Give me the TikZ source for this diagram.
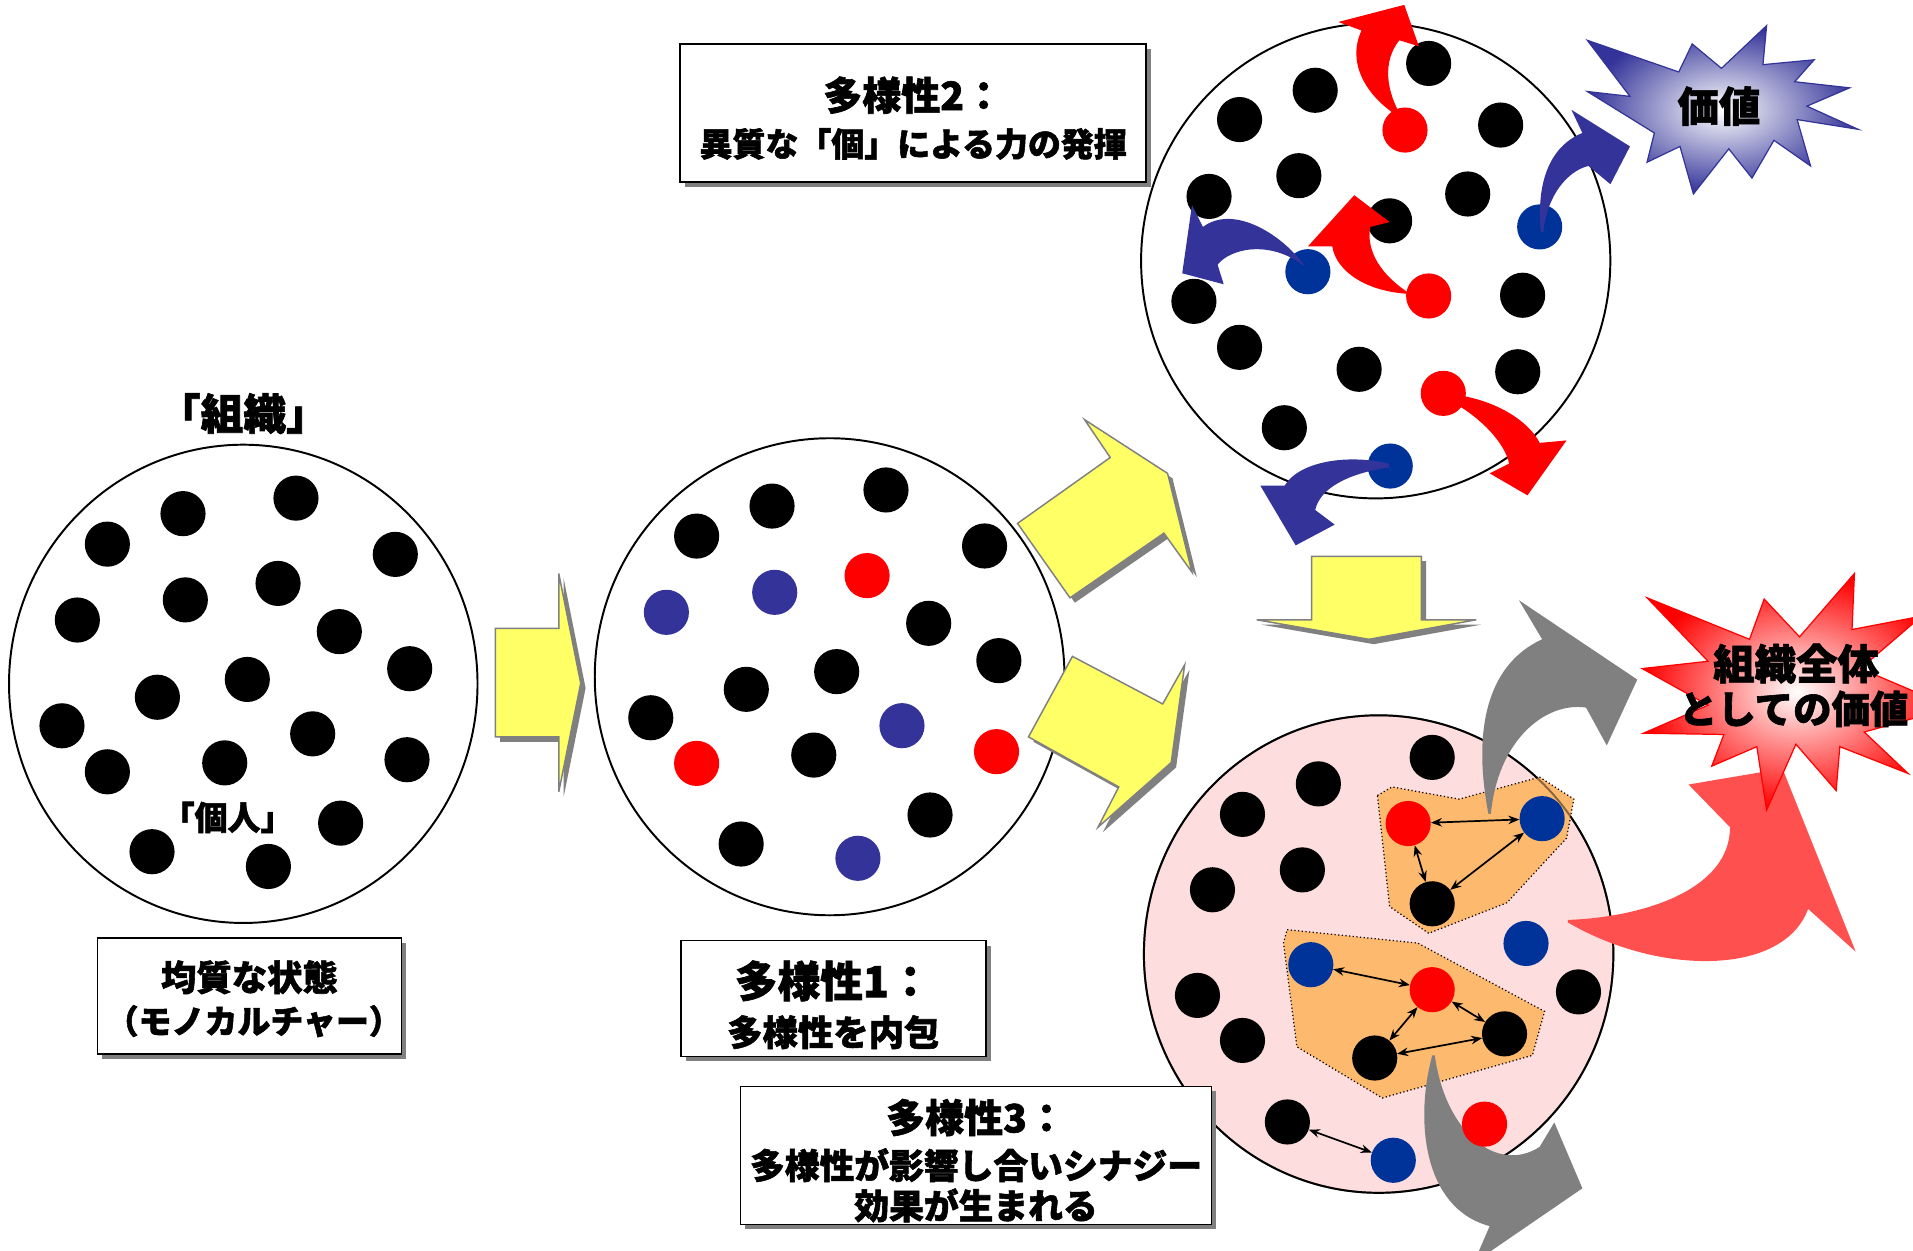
\documentclass[tikz,border=0pt]{standalone}
\usepackage{fontspec}
\setmainfont{Noto Sans CJK JP}[BoldFeatures={FakeBold=1.6}]
\usetikzlibrary{shadows,arrows.meta}
\definecolor{rd}{RGB}{255,0,0}
\definecolor{blA}{RGB}{51,51,153}
\definecolor{blB}{RGB}{0,51,153}
\definecolor{pinkbg}{RGB}{253,221,221}
\definecolor{orng}{RGB}{253,185,110}
\definecolor{yel}{RGB}{255,255,102}
\definecolor{gry}{RGB}{128,128,128}
\definecolor{rdarrow}{RGB}{255,80,80}
\begin{document}
\begin{tikzpicture}[x=1pt,y=-1pt,
  dotbase/.style={circle,minimum size=37pt,inner sep=0pt,draw=none},
  bdot/.style={dotbase,fill=black},
  rdot/.style={dotbase,fill=rd},
  adot/.style={dotbase,fill=blA},
  ndot/.style={dotbase,fill=blB},
  bigcirc/.style={draw=black,line width=1.6pt},
  box/.style={draw=black,line width=1.3pt,fill=white,inner sep=0pt,
     general shadow={fill=gry,shadow xshift=4pt,shadow yshift=-4pt}},
  txt/.style={inner sep=0pt,font=\bfseries},
  yarrow/.style={fill=yel,draw=gry,line width=1.2pt},
  yshadow/.style={fill=gry},
  dbl/.style={{Stealth[length=9pt,width=7pt]}-{Stealth[length=9pt,width=7pt]},line width=1.4pt},
  region/.style={fill=orng,draw=black,dotted,line width=1pt}
]
\useasboundingbox (0,0) rectangle (1568,1025);
\clip (0,0) rectangle (1568,1025);

% ---------- left circle ----------
\draw[bigcirc,fill=white] (199.4,560.5) ellipse [x radius=192pt,y radius=196pt];
\foreach \x/\y [count=\i] in {88/446,150/421,242.6/408.3,324/454.4,63.4/508.2,151.9/491.7,227.9/478.2,278.1/517.7,335.8/548.1,129/571.5,202.7/556.9,50.8/594.9,88/632.6,184.2/625.3,256.3/601.5,333.6/622.7,279.2/674.7,124.6/698.1,220/710.2}
  \node[bdot] (a\i) at (\x,\y) {};
\node[txt,font={\fontsize{35}{38}\selectfont\bfseries}] (lsoshiki) at (199.5,339) {「組織」};
\node[txt,font={\fontsize{27}{30}\selectfont\bfseries}] (lkojin) at (186.5,670) {「個人」};

% ---------- arrow 1 ----------
\fill[yshadow] (410,519) -- (462,519) -- (462,474) -- (480,564) -- (462,653) -- (462,608) -- (410,608) -- cycle;
\draw[yarrow] (406,515) -- (458,515) -- (458,470) -- (476,560) -- (458,649) -- (458,604) -- (406,604) -- cycle;

% ---------- middle circle ----------
\draw[bigcirc,fill=white] (680,554.7) ellipse [x radius=192.5pt,y radius=195.5pt];
\foreach \x/\y [count=\i] in {571/439.4,632.8/414.8,726.2/401.6,807/447.5,761.2/510.9,818.7/541.5,685.8/550.5,611.7/565,533.4/588.3,667/618.9,762.3/668,607.5/691.8}
  \node[bdot] (m\i) at (\x,\y) {};
\foreach \x/\y [count=\i] in {546.2/501.9,635/485.5,739.3/594.8,703.2/703.5}
  \node[adot] (mb\i) at (\x,\y) {};
\foreach \x/\y [count=\i] in {710.7/471.8,571/625.7,816.8/616.1}
  \node[rdot] (mr\i) at (\x,\y) {};

% ---------- diagonal yellow arrows ----------
\fill[yshadow] (838,433) -- (914,379) -- (893,348) -- (961,392) -- (981,473) -- (958,441) -- (881,494) -- cycle;
\draw[yarrow] (834,429) -- (910,375) -- (889,344) -- (957,388) -- (977,469) -- (954,437) -- (877,490) -- cycle;
\fill[yshadow] (883,542) -- (957,581) -- (975,549) -- (964,629) -- (904,682) -- (921,649) -- (847,608) -- cycle;
\draw[yarrow] (879,538) -- (953,577) -- (971,545) -- (960,625) -- (900,678) -- (917,645) -- (843,604) -- cycle;

% ---------- top-right circle ----------
\draw[bigcirc,fill=white] (1127.6,213.8) ellipse [x radius=192.3pt,y radius=194.7pt];
\foreach \x/\y [count=\i] in {1171/52,1078/74,1016/98,1230/102.5,1064.6/144,991/161,1203/159,1139/181,1248/242,978.6/247,1016/284.7,1114/302.7,1244/304.7,1052.7/350.6}
  \node[bdot] (t\i) at (\x,\y) {};
\foreach \x/\y [count=\i] in {1151.6/106.6,1171/242.6,1183/322.4}
  \node[rdot] (tr\i) at (\x,\y) {};
\foreach \x/\y [count=\i] in {1262/186,1072/222.7,1139.5/382}
  \node[ndot] (tb\i) at (\x,\y) {};

% star (value)
\shade[inner color=white,outer color=blA,draw=blA,line width=1pt]
  (1301,33) -- (1376,59) -- (1387,36) -- (1411,56) -- (1448,21) -- (1445,53) -- (1487,49) -- (1471,67) -- (1516,72) -- (1481,87) -- (1523,106) -- (1473,98) -- (1484,136) -- (1454,115) -- (1436,146) -- (1417,122) -- (1388,159) -- (1377,120) -- (1350,133) -- (1356,109) -- (1301,75) -- (1336,79) -- cycle;
\node[txt,font={\fontsize{34}{36}\selectfont\bfseries}] (kachi) at (1409,87) {価値};

% curved arrows (top-right circle)
\fill[rd] (1147,96) .. controls (1118,78) and (1104,50) .. (1116,25) -- (1097,18) -- (1151,4) -- (1163,38) -- (1147,33) .. controls (1133,50) and (1136,75) .. (1149,96) -- cycle;
\fill[blA] (1263,190) .. controls (1259,150) and (1270,120) .. (1297,109) -- (1288,90) -- (1336,120) -- (1320,151) -- (1302,136) .. controls (1285,140) and (1268,160) .. (1265,190) -- cycle;
\fill[blA] (1068,216) .. controls (1048,190) and (1010,168) .. (986,186) -- (977,168) -- (969,224) -- (1003,233) -- (998,217) .. controls (1008,204) and (1040,196) .. (1069,218) -- cycle;
\fill[rd] (1158,241) .. controls (1120,240) and (1095,222) .. (1092,202) -- (1072,202) -- (1110,160) -- (1139,182) -- (1123,186) .. controls (1120,205) and (1130,225) .. (1159,243) -- cycle;
\fill[rd] (1184,323) .. controls (1215,324) and (1250,340) .. (1262,363) -- (1284,361) -- (1252,406) -- (1221,388) -- (1237,380) .. controls (1233,362) and (1212,340) .. (1184,326) -- cycle;
\fill[blA] (1138,380) .. controls (1105,372) and (1065,378) .. (1053,398) -- (1033,398) -- (1062,447) -- (1094,430) -- (1078,418) .. controls (1082,400) and (1105,388) .. (1139,383) -- cycle;

% ---------- down arrow ----------
\fill[yshadow] (1079,460) -- (1169,460) -- (1169,512) -- (1214,512) -- (1126,528) -- (1034,512) -- (1079,512) -- cycle;
\draw[yarrow] (1075,456) -- (1165,456) -- (1165,508) -- (1210,508) -- (1122,524) -- (1030,508) -- (1075,508) -- cycle;

% ---------- bottom-right circle ----------
\draw[bigcirc,fill=pinkbg] (1130,782) ellipse [x radius=192.4pt,y radius=195.7pt];
\fill[orng] (1129,652) -- (1141,645) -- (1196,655) -- (1262,637) -- (1290,655) -- (1284,687) -- (1235,740) -- (1171,765) -- (1139,743) -- cycle;
\fill[orng] (1055,762) -- (1162,773) -- (1266,829) -- (1256,865) -- (1133,900) -- (1063,858) -- (1052,773) -- cycle;
\draw[black,line width=1.6pt,draw opacity=0.45] (1130,782) ellipse [x radius=192.4pt,y radius=195.7pt];
\draw[black,dotted,line width=1pt] (1129,652) -- (1141,645) -- (1196,655) -- (1262,637) -- (1290,655) -- (1284,687) -- (1235,740) -- (1171,765) -- (1139,743) -- cycle;
\draw[black,dotted,line width=1pt] (1055,762) -- (1162,773) -- (1266,829) -- (1256,865) -- (1133,900) -- (1063,858) -- (1052,773) -- cycle;

% gray arrows
\fill[gry] (1220,667) .. controls (1207,600) and (1218,545) .. (1264,524) -- (1245,492) -- (1342,557) -- (1317,611) -- (1300,580) .. controls (1268,575) and (1228,605) .. (1222,667) -- cycle;
\fill[gry] (1174,865) .. controls (1160,915) and (1165,990) .. (1221,1005) -- (1208,1035) -- (1297,974) -- (1274,920) -- (1262,940) .. controls (1228,962) and (1185,930) .. (1176,865) -- cycle;

% dots
\foreach \x/\y [count=\i] in {1173.9/620.8,1080.6/642.5,1018.4/667.5,1067.5/713,993.8/729.3,1173.9/740.8,981.5/815.9,1018.4/852.8,1293.8/813,1126.8/867.2,1233.2/847.4,1055.2/919.6}
  \node[bdot] (q\i) at (\x,\y) {};
\foreach \x/\y [count=\i] in {1154.2/675,1173.9/811.2,1216.8/921.4}
  \node[rdot] (qr\i) at (\x,\y) {};
\foreach \x/\y [count=\i] in {1264/671,1250.8/773.3,1074.4/790.7,1142/951}
  \node[ndot] (qb\i) at (\x,\y) {};

\draw[dbl] (qr1) -- (qb1);
\draw[dbl] (qr1) -- (q6);
\draw[dbl] (qb1) -- (q6);
\draw[dbl] (qb3) -- (qr2);
\draw[dbl] (qr2) -- (q10);
\draw[dbl] (qr2) -- (q11);
\draw[dbl] (q10) -- (q11);
\draw[dbl] (q12) -- (qb4);

% big red arrow
\fill[rdarrow] (1285,754) .. controls (1345,752) and (1418,730) .. (1418,678) -- (1384,643) -- (1461,630) -- (1521,780) -- (1482,745) .. controls (1462,800) and (1360,800) .. (1285,756) -- cycle;

% red star
\shade[inner color=white,outer color=rd,draw=rd,line width=1pt]
  (1350,490) -- (1434,524) -- (1446,491) -- (1475,522) -- (1520,470) -- (1518,516) -- (1575,505) -- (1525,548) -- (1600,580) -- (1528,600) -- (1564,634) -- (1508,612) -- (1505,648) -- (1472,610) -- (1448,664) -- (1440,612) -- (1403,628) -- (1413,602) -- (1347,601) -- (1400,578) -- (1346,548) -- (1400,542) -- cycle;
\node[txt,font={\fontsize{34}{36}\selectfont\bfseries},anchor=west] (zentai1) at (1404,544) {組織全体};
\node[txt,font={\fontsize{31.5}{36}\selectfont\bfseries},anchor=west] (zentai2) at (1376,581) {としての価値};

% ---------- boxes ----------
\node[box,minimum width=249pt,minimum height=95pt] (box0) at (204.5,816.5) {};
\node[txt,font={\fontsize{29}{30}\selectfont\bfseries}] (b0a) at (204.5,801) {均質な状態};
\node[txt,font={\fontsize{27}{30}\selectfont\bfseries}] (b0b) at (208,837) {（モノカルチャー）};

\node[box,minimum width=250pt,minimum height=95pt] (box1) at (683,818.5) {};
\node[txt,font={\fontsize{35}{36}\selectfont\bfseries}] (b1a) at (683,804) {多様性1：};
\node[txt,font={\fontsize{29}{30}\selectfont\bfseries}] (b1b) at (683,846) {多様性を内包};

\node[box,minimum width=382pt,minimum height=113pt] (box2) at (748.5,92.5) {};
\node[txt,font={\fontsize{32}{34}\selectfont\bfseries}] (b2a) at (748.5,78) {多様性2：};
\node[txt,font={\fontsize{27}{30}\selectfont\bfseries}] (b2b) at (748.5,118) {異質な「個」による力の発揮};

\node[box,minimum width=386pt,minimum height=113pt] (box3) at (800,947) {};
\node[txt,font={\fontsize{32}{34}\selectfont\bfseries}] (b3a) at (800,916) {多様性3：};
\node[txt,font={\fontsize{28.5}{30}\selectfont\bfseries}] (b3b) at (800,955) {多様性が影響し合いシナジー};
\node[txt,font={\fontsize{28.5}{30}\selectfont\bfseries}] (b3c) at (800,988) {効果が生まれる};
\end{tikzpicture}
\end{document}
